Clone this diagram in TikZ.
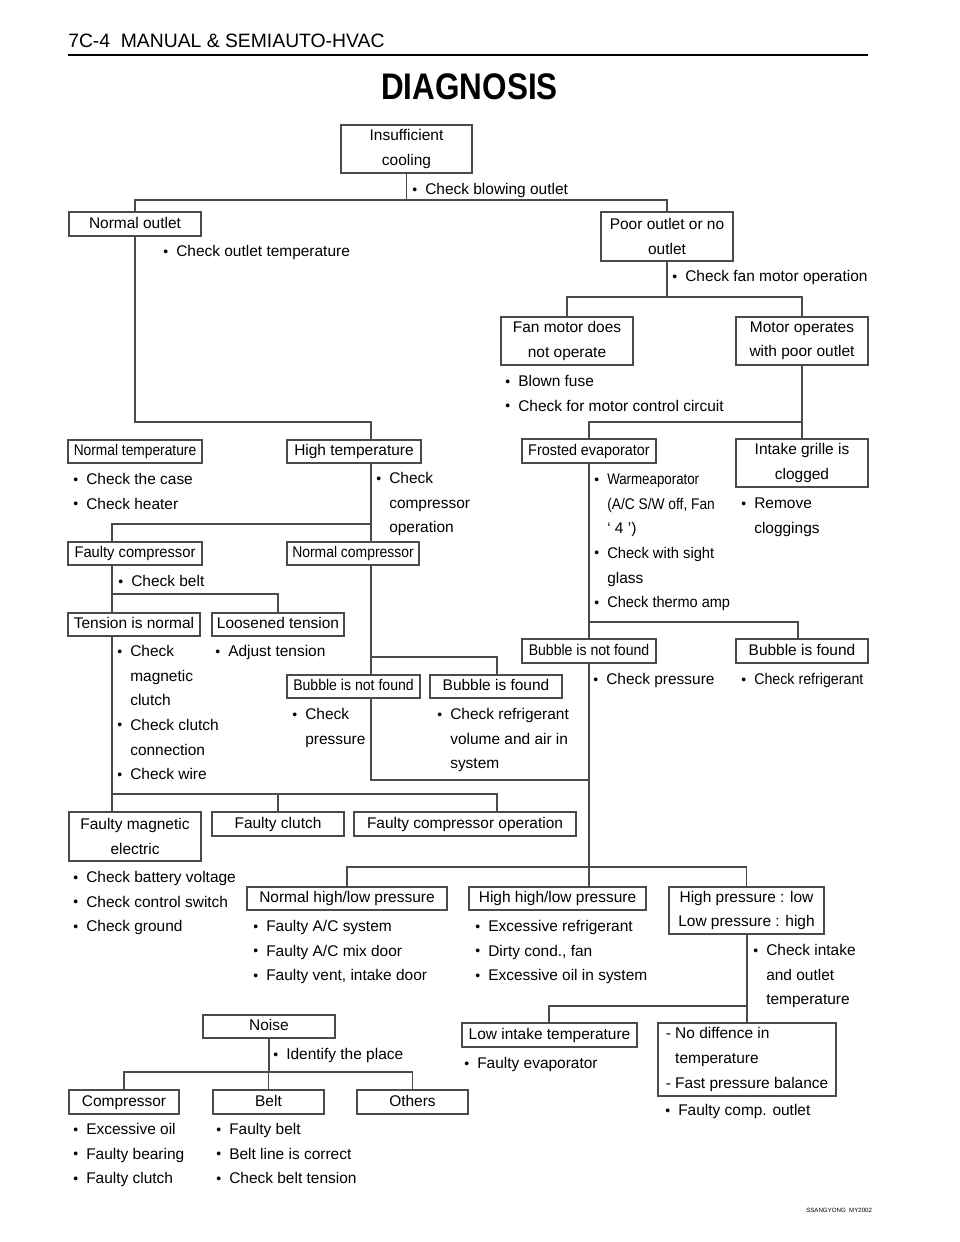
\documentclass[tikz,border=0pt]{standalone}
\usepackage{fontspec}
\setmainfont{Liberation Sans}
\usepackage{graphicx}
\newlength\ux \setlength\ux{0.75pt}
\newcommand\bodyf{\fontsize{11.6pt}{18.4pt}\selectfont}
\newcommand\bl{\makebox[13\ux][l]{\raisebox{0.4pt}{\scalebox{0.9}{\textbullet}}}}
\newcommand\ind{\hspace*{13\ux}}
\newcommand\fs{\rule{0pt}{10pt}}
\newcommand\cnd[2][0.9]{\scalebox{#1}[1]{#2}}
\definecolor{lc}{RGB}{75,75,75}
\tikzset{
 bx/.style={draw=lc, line width=0.95pt, inner sep=0pt, font=\bodyf, align=center},
 bx1/.style={bx, text height=8.4pt, text depth=2.4pt},
 ln/.style={draw=lc, line width=0.95pt},
 tx/.style={anchor=north west, inner sep=0pt, font=\bodyf, align=left},
}
\newcommand\bx[7][bx1]{\node[#1, minimum width={(#4-#2)*0.75pt}, minimum height={(#5-#3)*0.75pt}] (#6) at ({(#2+#4)/2},{(#3+#5)/2}) {#7};}
\newcommand\tl[4]{\node[tx] (#1) at (#2,{#3-7.7}) {\fs#4};}
\begin{document}
\begin{tikzpicture}[x=0.75pt,y=-0.75pt]
\useasboundingbox (0,0) rectangle (960,1242);
% header
\node[anchor=base west, inner sep=0pt, font=\fontsize{14.5pt}{17pt}\selectfont] (hdr) at (68,47) {7C-4\ \ MANUAL \& SEMIAUTO-HVAC};
\draw[line width=2.2pt, black] (68,55) -- (868,55);
\node[anchor=base, inner sep=0pt, font=\fontsize{27.75pt}{30pt}\selectfont\bfseries] (title) at (469.5,99) {\scalebox{0.85}[1]{DIAGNOSIS}};
\node[anchor=base west, inner sep=0pt, font=\fontsize{4.6pt}{5pt}\selectfont] (ftr) at (806,1212) {SSANGYONG\ \ MY2002};
% boxes
\bx[bx]{341}{125}{472}{173}{ins}{Insufficient\\cooling}
\bx{69}{212}{201}{236}{normout}{Normal outlet}
\bx[bx]{601}{212}{733}{261}{poor}{Poor outlet or no\\outlet}
\bx[bx]{501}{317}{633}{365}{fanno}{Fan motor does\\not operate}
\bx[bx]{736}{317}{868}{365}{motpoor}{Motor operates\\with poor outlet}
\bx{68}{440}{202}{463}{normtemp}{\cnd[0.89]{Normal temperature}}
\bx{287}{440}{421}{463}{hightemp}{High temperature}
\bx{522}{439}{656}{463}{frost}{\cnd[0.93]{Frosted evaporator}}
\bx[bx]{736}{439}{868}{487}{intake}{Intake grille is\\clogged}
\bx{68}{542}{202}{565}{faultcomp}{\cnd[0.95]{Faulty compressor}}
\bx{287}{542}{419}{565}{normcomp}{\cnd[0.9]{Normal compressor}}
\bx{68}{613}{200}{636}{tennorm}{Tension is normal}
\bx{212}{613}{344}{636}{loose}{Loosened tension}
\bx{287}{675}{420}{698}{bnf1}{\cnd[0.91]{Bubble is not found}}
\bx{430}{675}{562}{698}{bf1}{Bubble is found}
\bx{522}{639}{656}{663}{bnf2}{\cnd[0.91]{Bubble is not found}}
\bx{736}{639}{868}{663}{bf2}{Bubble is found}
\bx[bx]{69}{812}{201}{861}{fmag}{Faulty magnetic\\electric}
\bx{212}{812}{344}{836}{fclutch}{Faulty clutch}
\bx{354}{812}{576}{836}{fcompop}{Faulty compressor operation}
\bx{247}{887}{447}{910}{nhl}{Normal high/low pressure}
\bx{469}{887}{646}{910}{hhl}{High high/low pressure}
\bx[bx]{669}{887}{824}{934}{hplow}{High pressure : low\\Low pressure : high}
\bx{462}{1023}{637}{1047}{lowint}{Low intake temperature}
\bx[bx,align=left]{658}{1023}{836}{1096}{nodiff}{- No diffence in\\\phantom{- }temperature\\- Fast pressure balance}
\bx{203}{1015}{335}{1038}{noise}{Noise}
\bx{69}{1090}{179}{1114}{compr}{Compressor}
\bx{213}{1090}{324}{1114}{belt}{Belt}
\bx{357}{1090}{468}{1114}{others}{Others}
% connectors
\coordinate (t1) at (136,200);
\draw[ln] (ins.south) -- (ins.south |- t1);
\draw[ln] (normout.north) -- (normout.north |- t1) -- (poor.north |- t1) -- (poor.north);
\coordinate (n1) at (371,422);
\draw[ln] (normout.south) -- (normout.south |- n1) -- (n1) -- (n1 |- hightemp.north);
\coordinate (p1) at (667,297);
\draw[ln] (poor.south) -- (poor.south |- p1);
\draw[ln] (fanno.north) -- (fanno.north |- p1) -- (motpoor.north |- p1) -- (motpoor.north);
\coordinate (m1) at (802,422);
\draw[ln] (motpoor.south) -- (intake.north);
\draw[ln] (motpoor.south |- m1) -- (frost.north |- m1) -- (frost.north);
\coordinate (h1) at (371,524); \coordinate (h2) at (112,524);
\draw[ln] (h1 |- hightemp.south) -- (h1 |- normcomp.north);
\draw[ln] (h1) -- (h2) -- (h2 |- faultcomp.north);
\coordinate (f1) at (112,594); \coordinate (f2) at (278,594);
\draw[ln] (f1 |- faultcomp.south) -- (f1 |- tennorm.north);
\draw[ln] (f1) -- (f2) -- (f2 |- loose.north);
\coordinate (c1) at (371,657); \coordinate (c2) at (497,657);
\draw[ln] (c1 |- normcomp.south) -- (c1 |- bnf1.north);
\draw[ln] (c1) -- (c2) -- (c2 |- bf1.north);
\coordinate (c3) at (371,780); \coordinate (c4) at (589,780);
\draw[ln] (c3 |- bnf1.south) -- (c3) -- (c4);
\coordinate (e1) at (589,622); \coordinate (e2) at (798,622); \coordinate (e3) at (589,867);
\draw[ln] (frost.south) -- (e1 |- bnf2.north);
\draw[ln] (e1) -- (e2) -- (e2 |- bf2.north);
\draw[ln] (e1 |- bnf2.south) -- (e3);
\draw[ln] (nhl.north) -- (nhl.north |- e3) -- (hplow.north |- e3) -- (hplow.north);
\draw[ln] (e3) -- (e3 |- hhl.north);
\coordinate (g1) at (112,794); \coordinate (g2) at (278,794); \coordinate (g3) at (497,794);
\draw[ln] (g1 |- tennorm.south) -- (g1 |- fmag.north);
\draw[ln] (g1) -- (g3) -- (g3 |- fcompop.north);
\draw[ln] (g2) -- (g2 |- fclutch.north);
\coordinate (k1) at (747,1006); \coordinate (k2) at (549,1006);
\draw[ln] (k1 |- hplow.south) -- (k1 |- nodiff.north);
\draw[ln] (k1) -- (k2) -- (k2 |- lowint.north);
\coordinate (z1) at (269,1072);
\draw[ln] (noise.south) -- (noise.south |- z1);
\draw[ln] (compr.north) -- (compr.north |- z1) -- (others.north |- z1) -- (others.north);
\draw[ln] (belt.north) -- (belt.north |- z1);
% texts
\tl{l1}{412}{189}{\bl Check blowing outlet}
\tl{l2}{163}{251}{\bl Check outlet temperature}
\tl{l3}{672}{276}{\bl Check fan motor operation}
\tl{l4}{505}{381}{\bl Blown fuse\\\bl Check for motor control circuit}
\tl{l5}{73}{479}{\bl Check the case\\\bl Check heater}
\tl{l6}{376}{478}{\bl Check\\\ind compressor\\\ind operation}
\tl{l7}{594}{479}{\bl\cnd[0.86]{Warmeaporator}\\\ind\cnd[0.89]{(A/C S/W off, Fan}\\\ind{}‘ 4 ’)\\\bl\cnd[0.95]{Check with sight}\\\ind glass\\\bl\cnd[0.94]{Check thermo amp}}
\tl{l8}{741}{503}{\bl Remove\\\ind cloggings}
\tl{l9}{118}{581}{\bl Check belt}
\tl{l10}{117}{651}{\bl Check\\\ind magnetic\\\ind clutch\\\bl Check clutch\\\ind connection\\\bl Check wire}
\tl{l11}{215}{651}{\bl Adjust tension}
\tl{l12}{292}{714}{\bl Check\\\ind pressure}
\tl{l13}{437}{714}{\bl Check refrigerant\\\ind volume and air in\\\ind system}
\tl{l14}{593}{679}{\bl Check pressure}
\tl{l15}{741}{679}{\bl\cnd[0.92]{Check refrigerant}}
\tl{l16}{73}{877}{\bl Check battery voltage\\\bl Check control switch\\\bl Check ground}
\tl{l17}{253}{926}{\bl Faulty A/C system\\\bl Faulty A/C mix door\\\bl Faulty vent, intake door}
\tl{l18}{475}{926}{\bl Excessive refrigerant\\\bl Dirty cond., fan\\\bl Excessive oil in system}
\tl{l19}{753}{950}{\bl Check intake\\\ind and outlet\\\ind temperature}
\tl{l20}{464}{1063}{\bl Faulty evaporator}
\tl{l21}{665}{1110}{\bl Faulty comp. outlet}
\tl{l22}{273}{1054}{\bl Identify the place}
\tl{l23}{73}{1129}{\bl Excessive oil\\\bl Faulty bearing\\\bl Faulty clutch}
\tl{l24}{216}{1129}{\bl Faulty belt\\\bl Belt line is correct\\\bl Check belt tension}
\end{tikzpicture}
\end{document}
